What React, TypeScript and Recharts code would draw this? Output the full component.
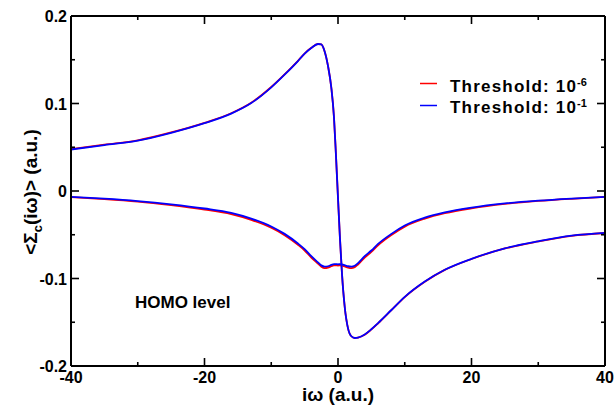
import { Line, LineChart, XAxis, YAxis } from 'recharts'

// imaginary frequency grid (a.u.)
const omega = [
  -40, -35, -30, -25, -20, -16, -13, -10, -8, -6, -5, -4, -3, -2.5, -2, -1.5, -1, -0.6, -0.3, 0,
  0.3, 0.6, 1, 1.5, 2, 2.5, 3, 4, 5, 6, 8, 10, 13, 16, 20, 25, 30, 35, 40,
]

// first curve (odd shape), threshold 10^-6 / 10^-1
const oddFine = [
  0.0478, 0.0529, 0.0579, 0.0669, 0.0779, 0.0888, 0.1008, 0.1188, 0.1332, 0.1487, 0.1571, 0.1636, 0.168, 0.1675, 0.1595, 0.143, 0.118, 0.084, 0.04, -0.008,
  -0.055, -0.095, -0.132, -0.157, -0.166, -0.168, -0.1675, -0.1642, -0.1582, -0.1512, -0.1362, -0.1212, -0.1037, -0.0902, -0.0777, -0.0657, -0.0577, -0.0512, -0.048,
]
const oddCoarse = [
  0.0474, 0.0525, 0.0575, 0.0665, 0.0775, 0.0885, 0.1005, 0.1185, 0.133, 0.1485, 0.157, 0.1635, 0.168, 0.1675, 0.1595, 0.143, 0.118, 0.084, 0.04, -0.008,
  -0.055, -0.095, -0.132, -0.157, -0.166, -0.168, -0.1675, -0.164, -0.158, -0.151, -0.136, -0.121, -0.1035, -0.09, -0.0775, -0.0655, -0.0575, -0.051, -0.0478,
]

// second curve (dip around zero)
const dipFine = [
  -0.007, -0.0092, -0.0121, -0.0162, -0.0212, -0.0264, -0.033, -0.042, -0.0505, -0.0615, -0.068, -0.076, -0.083, -0.0865, -0.0882, -0.0876, -0.086, -0.085, -0.085, -0.0852,
  -0.085, -0.0853, -0.0863, -0.0876, -0.0882, -0.087, -0.084, -0.076, -0.0695, -0.062, -0.0503, -0.0407, -0.0316, -0.0254, -0.0198, -0.0148, -0.0114, -0.0089, -0.0068,
]
const dipCoarse = [
  -0.0068, -0.0088, -0.0115, -0.0152, -0.02, -0.025, -0.0315, -0.0405, -0.049, -0.06, -0.0665, -0.0745, -0.0815, -0.085, -0.0865, -0.086, -0.0845, -0.0835, -0.0835, -0.0838,
  -0.0835, -0.0838, -0.0848, -0.086, -0.0865, -0.0855, -0.0825, -0.0745, -0.068, -0.0605, -0.049, -0.0395, -0.0305, -0.0245, -0.019, -0.0142, -0.011, -0.0086, -0.0066,
]

const xTicks = [-40, -30, -20, -10, 0, 10, 20, 30, 40]
const xMajor = [-40, -20, 0, 20, 40]
const yTicks = [-0.2, -0.15, -0.1, -0.05, 0, 0.05, 0.1, 0.15, 0.2]
const yMajor = ['-0.2', '-0.1', '0', '0.1', '0.2']

const thresholds = [
  { exp: '-6', color: '#ff0000' },
  { exp: '-1', color: '#0000ff' },
]

const chartData = omega.map((w, i) => ({
  w,
  oddFine: oddFine[i],
  oddCoarse: oddCoarse[i],
  dipFine: dipFine[i],
  dipCoarse: dipCoarse[i],
}))

const FONT = '"Liberation Sans", Arial, Helvetica, sans-serif'
const MAJOR = 8
const MINOR = 4

const fmtY = (v: number) => String(Math.round(v * 100) / 100)
const isMajorY = (v: number) => yMajor.includes(fmtY(v))

// built-in tick line hidden; the tick components draw inward marks from the axis line
const frame = {
  tickSize: -MAJOR,
  tickMargin: MAJOR,
  tickLine: { stroke: 'none' },
  axisLine: { stroke: '#000', strokeWidth: 2 },
  interval: 0 as const,
  allowDataOverflow: true,
}

const BottomTick = (props: any) => {
  const x = Number(props.x)
  const y = Number(props.y)
  const major = xMajor.includes(props.payload.value)
  return (
    <g>
      <path d={`M${x},${y}L${x},${y - (major ? MAJOR : MINOR)}`} stroke="#000" strokeWidth={1.6} fill="none" />
      {major && (
        <text x={x} y={y + 16.5} textAnchor="middle" fontFamily={FONT} fontWeight="bold" fontSize={16} fill="#000">
          {props.payload.value}
        </text>
      )}
    </g>
  )
}

const TopTick = (props: any) => {
  const x = Number(props.x)
  const y = Number(props.y)
  const len = xMajor.includes(props.payload.value) ? MAJOR : MINOR
  return <path d={`M${x},${y}L${x},${y + len}`} stroke="#000" strokeWidth={1.6} fill="none" />
}

const LeftTick = (props: any) => {
  const x = Number(props.x)
  const y = Number(props.y)
  const major = isMajorY(props.payload.value)
  return (
    <g>
      <path d={`M${x},${y}L${x + (major ? MAJOR : MINOR)},${y}`} stroke="#000" strokeWidth={1.6} fill="none" />
      {major && (
        <text x={x - 4} y={y + 6} textAnchor="end" fontFamily={FONT} fontWeight="bold" fontSize={16} fill="#000">
          {fmtY(props.payload.value)}
        </text>
      )}
    </g>
  )
}

const RightTick = (props: any) => {
  const x = Number(props.x)
  const y = Number(props.y)
  const len = isMajorY(props.payload.value) ? MAJOR : MINOR
  return <path d={`M${x},${y}L${x - len},${y}`} stroke="#000" strokeWidth={1.6} fill="none" />
}

const bold = { fontFamily: FONT, fontWeight: 'bold' as const, fill: '#000' }

export default function App() {
  return (
    <div style={{ position: 'absolute', left: 0, top: 0, width: 615, height: 406 }}>
      <LineChart width={615} height={406} data={chartData} margin={{ top: 8, right: 2, bottom: 8, left: 31 }}>
        <XAxis dataKey="w" type="number" domain={[-40, 40]} ticks={xTicks} height={32} tick={BottomTick} {...frame} />
        <XAxis xAxisId="top" orientation="top" dataKey="w" type="number" domain={[-40, 40]} ticks={xTicks} height={8} tick={TopTick} {...frame} />
        <YAxis type="number" domain={[-0.2, 0.2]} ticks={yTicks} width={40} tick={LeftTick} {...frame} />
        <YAxis yAxisId="right" orientation="right" type="number" domain={[-0.2, 0.2]} ticks={yTicks} width={8} tick={RightTick} {...frame} />
        <Line dataKey="oddFine" stroke="#ff0000" strokeWidth={1.8} dot={false} type="monotone" isAnimationActive={false} />
        <Line dataKey="dipFine" stroke="#ff0000" strokeWidth={1.8} dot={false} type="monotone" isAnimationActive={false} />
        <Line dataKey="oddCoarse" stroke="#0000ff" strokeWidth={1.8} dot={false} type="monotone" isAnimationActive={false} />
        <Line dataKey="dipCoarse" stroke="#0000ff" strokeWidth={1.8} dot={false} type="monotone" isAnimationActive={false} />
      </LineChart>
      {/* titles, annotation and legend */}
      <svg width={615} height={406} style={{ position: 'absolute', left: 0, top: 0, pointerEvents: 'none' }}>
        <text x={338} y={401} textAnchor="middle" fontSize={19} {...bold}>
          iω (a.u.)
        </text>
        <text x={37} y={192} transform="rotate(-90, 37, 192)" textAnchor="middle" fontSize={19} {...bold}>
          <tspan>{'<Σ'}</tspan>
          <tspan fontSize={13} dy={5}>c</tspan>
          <tspan dy={-5}>{'(iω)> (a.u.)'}</tspan>
        </text>
        <text x={135} y={308} fontSize={17} {...bold}>
          HOMO level
        </text>
        {thresholds.map((t, i) => (
          <g key={t.exp}>
            <line x1={420} x2={437} y1={83.5 + i * 22} y2={83.5 + i * 22} stroke={t.color} strokeWidth={1.5} />
            <text x={450} y={91.7 + i * 21.6} fontSize={17} letterSpacing={1.2} {...bold}>
              Threshold: 10
              <tspan fontSize={11} dy={-6} letterSpacing={0}>{t.exp}</tspan>
            </text>
          </g>
        ))}
      </svg>
    </div>
  )
}
